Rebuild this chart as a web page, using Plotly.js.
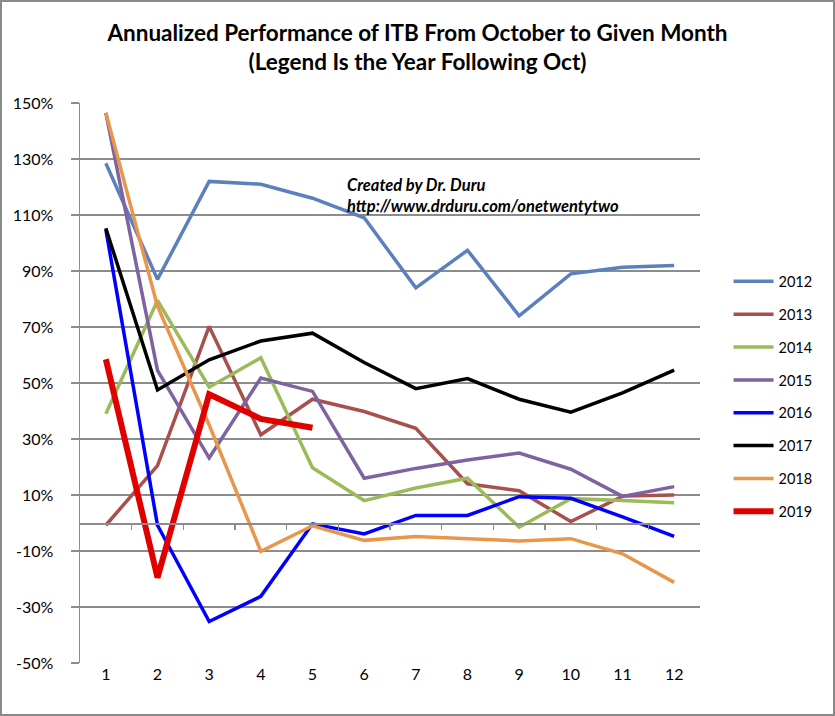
<!DOCTYPE html>
<html>
<head>
<meta charset="utf-8">
<script src="https://cdn.plot.ly/plotly-3.0.1.min.js"></script>
<style>
  html, body { margin: 0; padding: 0; background: #fff; }
  #chart { position: absolute; left: 0; top: 0; width: 835px; height: 716px; }
  #frame { position: absolute; left: 0; top: 0; width: 831px; height: 712px; border: 2px solid #8a8a8a; pointer-events: none; z-index: 10; }
</style>
</head>
<body>
<div id="chart"></div>
<div id="frame"></div>
<script>
// months after October
const months = [1, 2, 3, 4, 5, 6, 7, 8, 9, 10, 11, 12];

// annualized performance, %
const y2012 = [128.5, 87, 122, 121, 116, 109, 84, 97.4, 74, 89, 91.3, 92];
const y2013 = [-0.8, 20.5, 70.2, 31.5, 44.2, 39.8, 33.8, 14, 11.5, 0.5, 9.6, 10];
const y2014 = [39, 79.5, 48.5, 59, 19.7, 8, 12.5, 16, -1.5, 8.7, 8, 7.2];
const y2015 = [146.5, 54.5, 23.2, 51.8, 47, 16, 19.5, 22.5, 25, 19.2, 9.5, 13];
const y2016 = [104.8, -0.8, -35.2, -26.2, -0.3, -3.9, 2.7, 2.7, 9.4, 8.8, 2.2, -4.8];
const y2017 = [105.3, 47.5, 58.3, 65, 67.8, 57.3, 48, 51.6, 44.2, 39.6, 46.5, 54.6];
const y2018 = [146.5, 77.4, 35, -10.1, -1, -6.2, -4.8, -5.5, -6.4, -5.6, -11, -21.2];
const y2019 = [58.5, -19.5, 46, 37.2, 34];

const seriesNames = ['2012', '2013', '2014', '2015', '2016', '2017', '2018', '2019'];
const seriesValues = [y2012, y2013, y2014, y2015, y2016, y2017, y2018, y2019];
const seriesColors = ['#5b80bd', '#a8504d', '#9bbb59', '#7e63a1', '#0000ff', '#000000', '#e8964b', '#e00000'];
const seriesWidths = [3.5, 3.5, 3.5, 3.5, 3.5, 3.5, 3.5, 6];

const yTicks = [-50, -30, -10, 10, 30, 50, 70, 90, 110, 130, 150];

const data = seriesNames.map(function(name, i) {
    return {
        x: months.slice(0, seriesValues[i].length),
        y: seriesValues[i],
        name: name,
        legendgroup: name,
        type: 'scatter',
        mode: 'lines',
        line: { color: seriesColors[i], width: seriesWidths[i] }
    };
});

// the zero axis with its little tick marks between categories
data.push({
    x: months, y: months.map(function() { return 0; }),
    xaxis: 'x2', yaxis: 'y', type: 'scatter', mode: 'lines',
    line: { color: 'rgba(0,0,0,0)', width: 0 }, showlegend: false, hoverinfo: 'skip'
});

const layout = {
    width: 835,
    height: 716,
    margin: { l: 80, r: 135, t: 103, b: 53 },
    paper_bgcolor: '#fff',
    plot_bgcolor: '#fff',
    font: { family: 'Lato, "Open Sans", sans-serif', color: '#000' },
    title: {
        text: '<b>Annualized Performance of ITB From October to Given Month</b><br><b>(Legend Is the Year Following Oct)</b>',
        font: { size: 22.5, family: 'Lato, "Open Sans", sans-serif', color: '#000' },
        x: 0.5, xanchor: 'center',
        y: 0.943, yanchor: 'top',
        pad: { t: 0 }
    },
    xaxis: {
        range: [0.5, 12.5],
        tickvals: months,
        ticktext: months.map(String),
        ticks: '',
        showgrid: false,
        zeroline: false,
        showline: false,
        tickfont: { size: 16 }
    },
    xaxis2: {
        range: [0.5, 12.5],
        overlaying: 'x',
        anchor: 'free',
        position: 0.25,
        side: 'bottom',
        tickvals: [1.5, 2.5, 3.5, 4.5, 5.5, 6.5, 7.5, 8.5, 9.5, 10.5, 11.5],
        showticklabels: false,
        ticks: 'outside',
        ticklen: 5,
        tickwidth: 1.5,
        tickcolor: '#8c8c8c',
        showline: true,
        linecolor: '#8c8c8c',
        linewidth: 1.5,
        showgrid: false,
        zeroline: false
    },
    yaxis: {
        range: [-50, 150],
        tickvals: yTicks,
        ticktext: yTicks.map(function(v) { return v + '%'; }),
        ticks: 'outside',
        ticklen: 8,
        tickwidth: 1.5,
        tickcolor: '#8c8c8c',
        showgrid: true,
        gridcolor: '#8c8c8c',
        gridwidth: 1.5,
        showline: true,
        linecolor: '#8c8c8c',
        linewidth: 1.5,
        zeroline: false,
        tickfont: { size: 16 },
        ticklabelstandoff: 14
    },
    legend: {
        x: 1.046, xanchor: 'left',
        y: 0.71, yanchor: 'top',
        font: { size: 14.5 },
        tracegroupgap: 11,
        itemwidth: 40,
        bgcolor: 'rgba(0,0,0,0)'
    },
    annotations: [{
        text: '<b><i>Created by Dr. Duru<br>http://www.drduru.com/onetwentytwo</i></b>',
        xref: 'paper', yref: 'paper',
        x: 0.428, y: 0.875, xanchor: 'left', yanchor: 'top',
        align: 'left', showarrow: false,
        font: { size: 16.5, family: 'Lato, "Open Sans", sans-serif', color: '#000' }
    }],
    showlegend: true
};

Plotly.newPlot('chart', data, layout, { displayModeBar: false, staticPlot: true });
</script>
</body>
</html>
